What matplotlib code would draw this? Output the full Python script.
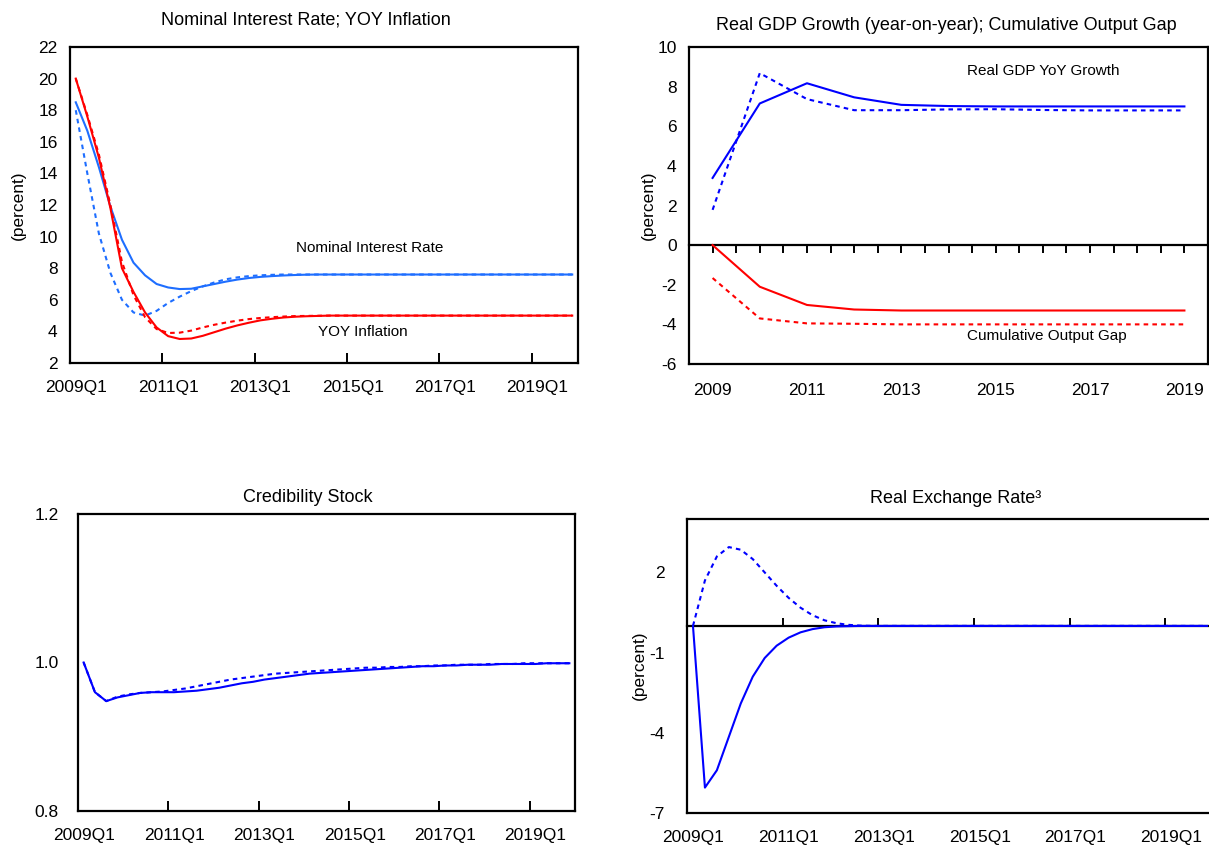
import matplotlib
matplotlib.use('Agg')
import matplotlib.pyplot as plt

plt.rcParams['font.family'] = ['Liberation Sans', 'DejaVu Sans']
plt.rcParams['axes.unicode_minus'] = False

# ---- data ----
quarters = list(range(44))  # 2009Q1 .. 2019Q4
q_labels = ['2009Q1', '2011Q1', '2013Q1', '2015Q1', '2017Q1', '2019Q1']
q_label_pos = [0, 8, 16, 24, 32, 40]
q_tick_pos = [7.5, 15.5, 23.5, 31.5, 39.5]

years = list(range(11))  # 2009 .. 2019
y_labels = ['2009', '2011', '2013', '2015', '2017', '2019']
y_label_pos = [0, 2, 4, 6, 8, 10]

rate_solid = [18.5, 16.7, 14.4, 11.9, 9.8, 8.35, 7.55, 7.0, 6.78, 6.68, 6.7, 6.85,
              7.0, 7.15, 7.28, 7.38, 7.45, 7.5, 7.54, 7.57, 7.59] + [7.6] * 23
rate_dash = [18.0, 14.0, 10.2, 7.7, 6.0, 5.2, 5.0, 5.3, 5.8, 6.2, 6.55, 6.85,
             7.1, 7.3, 7.42, 7.5, 7.55, 7.58] + [7.6] * 26
infl_solid = [20.0, 17.6, 15.0, 11.8, 8.0, 6.5, 5.2, 4.25, 3.7, 3.52, 3.55, 3.72,
              3.95, 4.18, 4.38, 4.55, 4.7, 4.8, 4.88, 4.93, 4.96, 4.98] + [5.0] * 22
infl_dash = [20.0, 17.7, 15.2, 12.0, 8.4, 6.3, 4.9, 4.15, 3.9, 3.92, 4.05, 4.25,
             4.42, 4.56, 4.68, 4.78, 4.85, 4.9, 4.94, 4.97, 4.98, 4.99] + [5.0] * 22

gdp_solid = [3.39, 7.15, 8.17, 7.46, 7.08, 7.02, 7.0, 7.0, 7.0, 7.0, 7.0]
gdp_dash = [1.78, 8.68, 7.37, 6.81, 6.81, 6.85, 6.86, 6.82, 6.8, 6.8, 6.8]
gap_solid = [0.0, -2.1, -3.02, -3.25, -3.3, -3.3, -3.3, -3.3, -3.3, -3.3, -3.3]
gap_dash = [-1.66, -3.7, -3.95, -3.97, -4.0, -4.0, -4.0, -4.0, -4.0, -4.0, -4.0]

cred_solid = [1.0, 0.96, 0.948, 0.953, 0.956, 0.959, 0.96, 0.96, 0.96, 0.961, 0.962,
              0.964, 0.966, 0.969, 0.972, 0.974, 0.977, 0.979, 0.981, 0.983, 0.985,
              0.986, 0.987, 0.988, 0.989, 0.99, 0.991, 0.992, 0.993, 0.994, 0.995,
              0.995, 0.996, 0.996, 0.997, 0.997, 0.997, 0.998, 0.998, 0.998, 0.998,
              0.999, 0.999, 0.999]
cred_dash = [1.0, 0.96, 0.948, 0.954, 0.957, 0.959, 0.96, 0.961, 0.963, 0.965, 0.968,
             0.971, 0.974, 0.977, 0.979, 0.981, 0.983, 0.985, 0.986, 0.987, 0.988,
             0.989, 0.99, 0.991, 0.992, 0.993, 0.993, 0.994, 0.994, 0.995, 0.995,
             0.996, 0.996, 0.997, 0.997, 0.997, 0.998, 0.998, 0.998, 0.999, 0.999,
             0.999, 0.999, 0.999]

rer_solid = [0.0, -6.05, -5.4, -4.15, -2.9, -1.9, -1.2, -0.74, -0.44, -0.24, -0.12,
             -0.05, -0.02, -0.01] + [0.0] * 30
rer_dash = [0.0, 1.7, 2.6, 2.95, 2.85, 2.5, 2.0, 1.5, 1.05, 0.68, 0.4, 0.21, 0.1,
            0.04, 0.01] + [0.0] * 29

# ---- style ----
LIGHT_BLUE = '#1E6EFF'
BLUE = '#0000FF'
RED = '#FF0000'
DASH = (0, (2.2, 2.0))
LW = 1.5
TICK_FS = 12.5
TITLE_FS = 13
NOTE_FS = 11

W, H = 1209, 849
fig = plt.figure(figsize=(W / 100, H / 100), dpi=100)


def add_ax(left, top, right, bottom):
    return fig.add_axes([left / W, 1 - bottom / H, (right - left) / W, (bottom - top) / H])


def frame(ax):
    for s in ax.spines.values():
        s.set_linewidth(1.6)
    ax.tick_params(axis='y', length=0, pad=9, labelsize=TICK_FS)


def quarter_axis(ax):
    ax.set_xlim(-0.5, 43.5)
    ax.set_xticks(q_tick_pos)
    ax.set_xticklabels([])
    ax.set_xticks(q_label_pos, q_labels, minor=True)
    ax.tick_params(axis='x', which='major', direction='in', length=7, width=1.4)
    ax.tick_params(axis='x', which='minor', length=0, pad=12, labelsize=TICK_FS)


def zero_ticks(ax, frac, ticks, direction):
    sec = ax.secondary_xaxis(frac)
    sec.set_xticks(ticks)
    sec.tick_params(length=6, width=1.4, direction=direction, labelbottom=False,
                    labeltop=False)
    for s in sec.spines.values():
        s.set_linewidth(1.6)


# ---- top left: interest rate and inflation ----
ax1 = add_ax(70, 47, 578, 363)
ax1.plot(quarters, rate_solid, color=LIGHT_BLUE, lw=LW)
ax1.plot(quarters, rate_dash, color=LIGHT_BLUE, lw=LW, ls=DASH)
ax1.plot(quarters, infl_solid, color=RED, lw=LW)
ax1.plot(quarters, infl_dash, color=RED, lw=LW, ls=DASH)
ax1.set_ylim(2, 22)
ax1.set_yticks(range(2, 23, 2))
frame(ax1)
quarter_axis(ax1)
ax1.text(25.5, 9.3, 'Nominal Interest Rate', ha='center', va='center', fontsize=NOTE_FS)
ax1.text(24.9, 3.98, 'YOY Inflation', ha='center', va='center', fontsize=NOTE_FS)
fig.text(306 / W, 1 - 20 / H, 'Nominal Interest Rate; YOY Inflation', ha='center',
         va='center', fontsize=TITLE_FS)
fig.text(18 / W, 1 - 205 / H, '(percent)', rotation=90, ha='center', va='center',
         fontsize=TICK_FS)

# ---- top right: GDP growth and output gap ----
ax2 = add_ax(689, 47, 1208, 364)
ax2.plot(years, gdp_solid, color=BLUE, lw=LW)
ax2.plot(years, gdp_dash, color=BLUE, lw=LW, ls=DASH)
ax2.plot(years, gap_solid, color=RED, lw=LW)
ax2.plot(years, gap_dash, color=RED, lw=LW, ls=DASH)
ax2.set_xlim(-0.5, 10.5)
ax2.set_ylim(-6, 10)
ax2.set_yticks(range(-6, 11, 2))
frame(ax2)
ax2.set_xticks(y_label_pos, y_labels)
ax2.tick_params(axis='x', length=0, pad=14, labelsize=TICK_FS)
zero_ticks(ax2, 6 / 16, [k / 2 for k in range(0, 21)], 'out')
ax2.text(5.39, 8.8, 'Real GDP YoY Growth', ha='left', va='center', fontsize=NOTE_FS)
ax2.text(5.39, -4.58, 'Cumulative Output Gap', ha='left', va='center', fontsize=NOTE_FS)
fig.text(946 / W, 1 - 25 / H, 'Real GDP Growth (year-on-year); Cumulative Output Gap',
         ha='center', va='center', fontsize=TITLE_FS)
fig.text(648 / W, 1 - 205 / H, '(percent)', rotation=90, ha='center', va='center',
         fontsize=TICK_FS)

# ---- bottom left: credibility stock ----
ax3 = add_ax(78, 514, 575, 811)
ax3.plot(quarters, cred_solid, color=BLUE, lw=LW)
ax3.plot(quarters, cred_dash, color=BLUE, lw=LW, ls=DASH)
ax3.set_ylim(0.8, 1.2)
ax3.set_yticks([0.8, 1.0, 1.2], ['0.8', '1.0', '1.2'])
frame(ax3)
ax3.tick_params(axis='y', pad=14)
quarter_axis(ax3)
fig.text(308 / W, 1 - 497 / H, 'Credibility Stock', ha='center', va='center',
         fontsize=TITLE_FS)

# ---- bottom right: real exchange rate ----
ax4 = add_ax(687, 519, 1213, 813)
ax4.plot(quarters, rer_solid, color=BLUE, lw=LW)
ax4.plot(quarters, rer_dash, color=BLUE, lw=LW, ls=DASH)
ax4.set_xlim(-0.5, 43.5)
ax4.set_ylim(-7, 4)
ax4.set_yticks([2, -1, -4, -7])
frame(ax4)
ax4.tick_params(axis='y', pad=16)
ax4.set_xticks(q_label_pos, q_labels)
ax4.tick_params(axis='x', length=0, pad=12, labelsize=TICK_FS)
zero_ticks(ax4, 7 / 11, q_tick_pos, 'out')
fig.text(956 / W, 1 - 499 / H, 'Real Exchange Rate³', ha='center', va='center',
         fontsize=TITLE_FS)
fig.text(639 / W, 1 - 665 / H, '(percent)', rotation=90, ha='center', va='center',
         fontsize=TICK_FS)

fig.savefig('out.png', dpi=100)
